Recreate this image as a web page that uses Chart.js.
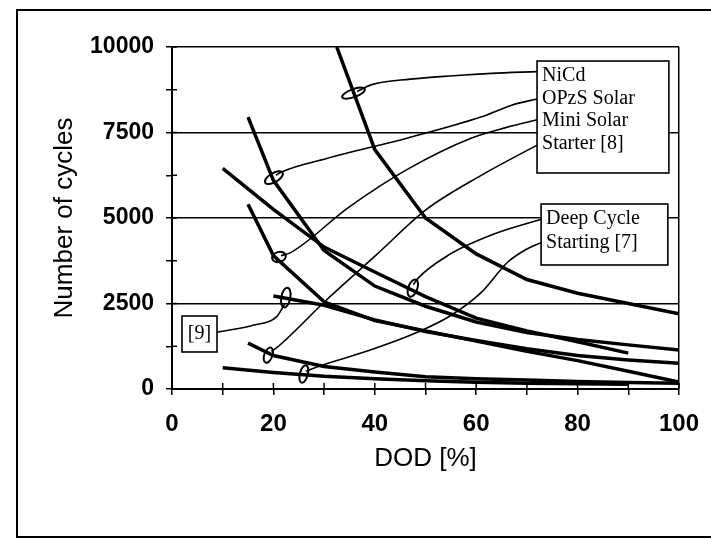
<!DOCTYPE html>
<html>
<head>
<meta charset="utf-8">
<script src="https://cdn.jsdelivr.net/npm/chart.js@4.4.1/dist/chart.umd.min.js"></script>
<style>
  html, body { margin: 0; padding: 0; background: #fff; }
  #wrap { width: 711px; height: 540px; }
</style>
</head>
<body>
<div id="wrap"><canvas id="myChart" width="711" height="540"></canvas></div>
<script>
// cycle life curves, [DOD %, cycles]
var nicd      = [[32.5,10000],[40,7000],[50,5000],[60,3950],[70,3200],[80,2800],[90,2500],[100,2200]];
var opzsSolar = [[15,7950],[20,6100],[30,4050],[40,3010],[50,2420],[60,1960],[70,1650],[80,1450],[90,1290],[100,1140]];
var miniSolar = [[10,6450],[20,5250],[30,4150],[40,3420],[50,2700],[60,2070],[70,1700],[80,1380],[90,1050]];
var starter8  = [[15,5400],[20,3900],[30,2550],[40,2000],[50,1700],[60,1400],[70,1100],[80,830],[90,520],[100,200]];
var ref9      = [[20,2720],[30,2450],[40,2020],[50,1680],[60,1420],[70,1180],[80,980],[90,850],[100,750]];
var deepCycle = [[15,1340],[20,980],[30,660],[40,500],[50,360],[60,300],[70,260],[80,220],[90,190],[100,170]];
var starting7 = [[10,620],[20,480],[30,370],[40,300],[50,240],[60,200],[70,170],[80,150],[90,140]];

// leader lines from the curves to the label boxes
var leadNicd     = [[36.5,8700],[39.4,8900],[47,9060],[55.5,9160],[63,9230],[72,9280]];
var leadOpzs     = [[20.5,6250],[21.5,6340],[30.5,6740],[46.5,7340],[60.9,7950],[67,8300],[72,8480]];
var leadMini     = [[21.5,3900],[23.3,3980],[34.9,5320],[46.5,6430],[59.1,7340],[66,7650],[72,7870]];
var leadStarter  = [[19.6,1100],[20.6,1200],[30.5,2610],[40.3,3920],[50,5230],[60.9,6240],[72,7130]];
var leadDeep     = [[47.6,3050],[48.4,3220],[54.6,3920],[63.5,4530],[73,4970]];
var leadStarting = [[26.4,520],[28.7,650],[38.5,1110],[48.4,1660],[55,2150],[60.9,2810],[66.3,3720],[69.5,4050],[72.8,4280]];
var lead9        = [[8.9,1660],[16.2,1870],[20.6,2110],[22.3,2500]];

var boxLabels1 = ['NiCd', 'OPzS Solar', 'Mini Solar', 'Starter [8]'];
var boxLabels2 = ['Deep Cycle', 'Starting [7]'];
var boxLabel3 = '[9]';

var xTicks = [0, 20, 40, 60, 80, 100];
var yTicks = [0, 2500, 5000, 7500, 10000];

function pts(a) { return a.map(function(p) { return {x: p[0], y: p[1]}; }); }

function curve(d) {
  return { data: pts(d), borderColor: '#000', borderWidth: 3.5, pointRadius: 0, tension: 0, fill: false };
}
function leader(d) {
  return { data: pts(d), borderColor: '#000', borderWidth: 1.6, pointRadius: 0,
           cubicInterpolationMode: 'monotone', fill: false };
}

// annotation ovals around curves: centre in data units, radii in px
var ovals = [
  {x: 35.8, y: 8650, rx: 12, ry: 4, rot: -20},
  {x: 20.1, y: 6180, rx: 10, ry: 4.5, rot: -30},
  {x: 21.1, y: 3860, rx: 7, ry: 5, rot: -15},
  {x: 19.0, y: 990,  rx: 4, ry: 8, rot: 20},
  {x: 47.5, y: 2950, rx: 4.5, ry: 9, rot: 20},
  {x: 26.0, y: 440,  rx: 4, ry: 9, rot: 15},
  {x: 22.45, y: 2675, rx: 4.5, ry: 10, rot: 10}
];

var boxes = [
  {x0: 72.0, x1: 98.0, y0: 9590, y1: 6316, lines: boxLabels1, dy: 22.5},
  {x0: 72.8, x1: 97.8, y0: 5409, y1: 3626, lines: boxLabels2, dy: 24},
  {x0: 1.97, x1: 8.88, y0: 2134, y1: 1082, lines: [boxLabel3], dy: 0, center: true}
];

var decor = {
  id: 'decor',
  beforeDraw: function(chart) {
    var c = chart.ctx;
    c.save();
    c.fillStyle = '#fff';
    c.fillRect(0, 0, chart.width, chart.height);
    c.restore();
  },
  afterDatasetsDraw: function(chart) {
    var c = chart.ctx, xs = chart.scales.x, ys = chart.scales.y;
    c.save();
    c.strokeStyle = '#000';
    // ovals
    c.lineWidth = 2;
    ovals.forEach(function(o) {
      c.beginPath();
      c.ellipse(xs.getPixelForValue(o.x), ys.getPixelForValue(o.y), o.rx, o.ry, o.rot * Math.PI / 180, 0, 2 * Math.PI);
      c.stroke();
    });
    // inward halves of the tick marks
    c.lineWidth = 1.5;
    var a = chart.chartArea;
    xs.ticks.forEach(function(t) {
      var px = xs.getPixelForValue(t.value);
      c.beginPath(); c.moveTo(px, a.bottom); c.lineTo(px, a.bottom - 6); c.stroke();
    });
    ys.ticks.forEach(function(t) {
      var py = ys.getPixelForValue(t.value);
      c.beginPath(); c.moveTo(a.left, py); c.lineTo(a.left + 5, py); c.stroke();
    });
    // label boxes
    c.font = '20px "Liberation Serif", "Times New Roman", serif';
    c.textBaseline = 'middle';
    boxes.forEach(function(b) {
      var l = xs.getPixelForValue(b.x0), r = xs.getPixelForValue(b.x1);
      var t = ys.getPixelForValue(b.y0), btm = ys.getPixelForValue(b.y1);
      c.fillStyle = '#fff';
      c.fillRect(l, t, r - l, btm - t);
      c.lineWidth = 1.6;
      c.strokeRect(l, t, r - l, btm - t);
      c.fillStyle = '#000';
      if (b.center) {
        c.textAlign = 'center';
        c.fillText(b.lines[0], (l + r) / 2, (t + btm) / 2);
      } else {
        c.textAlign = 'left';
        b.lines.forEach(function(s, i) { c.fillText(s, l + 5, t + 15 + i * b.dy); });
      }
    });
    c.restore();
  },
  afterDraw: function(chart) {
    var c = chart.ctx;
    c.save();
    c.strokeStyle = '#000';
    c.lineWidth = 2;
    c.beginPath();
    c.moveTo(711, 10); c.lineTo(17, 10); c.lineTo(17, 537); c.lineTo(711, 537);
    c.stroke();
    c.restore();
  }
};

var ctx = document.getElementById('myChart');
var myChart = new Chart(ctx, {
  type: 'line',
  data: {
    datasets: [
      curve(nicd), curve(opzsSolar), curve(miniSolar), curve(starter8),
      curve(ref9), curve(deepCycle), curve(starting7),
      leader(leadNicd), leader(leadOpzs), leader(leadMini), leader(leadStarter),
      leader(leadDeep), leader(leadStarting), leader(lead9)
    ]
  },
  options: {
    responsive: false,
    animation: false,
    devicePixelRatio: 1,
    layout: { padding: { left: 45, top: 47, right: 32, bottom: 62 } },
    plugins: { legend: { display: false }, tooltip: { enabled: false } },
    scales: {
      x: {
        type: 'linear', min: 0, max: 100,
        afterFit: function(s) { s.height = 89; s.paddingLeft = 0; s.paddingRight = 0; },
        ticks: {
          stepSize: 10, padding: 15, color: '#000',
          font: { family: '"Liberation Sans", Arial, sans-serif', size: 24, weight: 'bold' },
          callback: function(v) { return xTicks.indexOf(v) >= 0 ? String(v) : ''; }
        },
        grid: {
          color: function(c) { return c.tick && c.tick.value === 100 ? '#000' : 'rgba(0,0,0,0)'; },
          tickColor: '#000', tickLength: 6, lineWidth: 1.5
        },
        border: { color: '#000', width: 2 },
        title: { display: true, text: 'DOD [%]', color: '#000',
                 font: { family: '"Liberation Sans", Arial, sans-serif', size: 26 } }
      },
      y: {
        min: 0, max: 10000,
        afterFit: function(s) { s.width = 127; s.paddingTop = 0; s.paddingBottom = 0; },
        ticks: {
          stepSize: 1250, padding: 12, color: '#000',
          font: { family: '"Liberation Sans", Arial, sans-serif', size: 23, weight: 'bold' },
          callback: function(v) { return yTicks.indexOf(v) >= 0 ? String(v) : ''; }
        },
        grid: {
          color: function(c) { return c.tick && c.tick.value % 2500 === 0 ? '#000' : 'rgba(0,0,0,0)'; },
          tickColor: '#000', tickLength: 6, lineWidth: 1.5
        },
        border: { color: '#000', width: 2 },
        title: { display: true, text: 'Number of cycles', color: '#000',
                 font: { family: '"Liberation Sans", Arial, sans-serif', size: 26 } }
      }
    }
  },
  plugins: [decor]
});
</script>
</body>
</html>
